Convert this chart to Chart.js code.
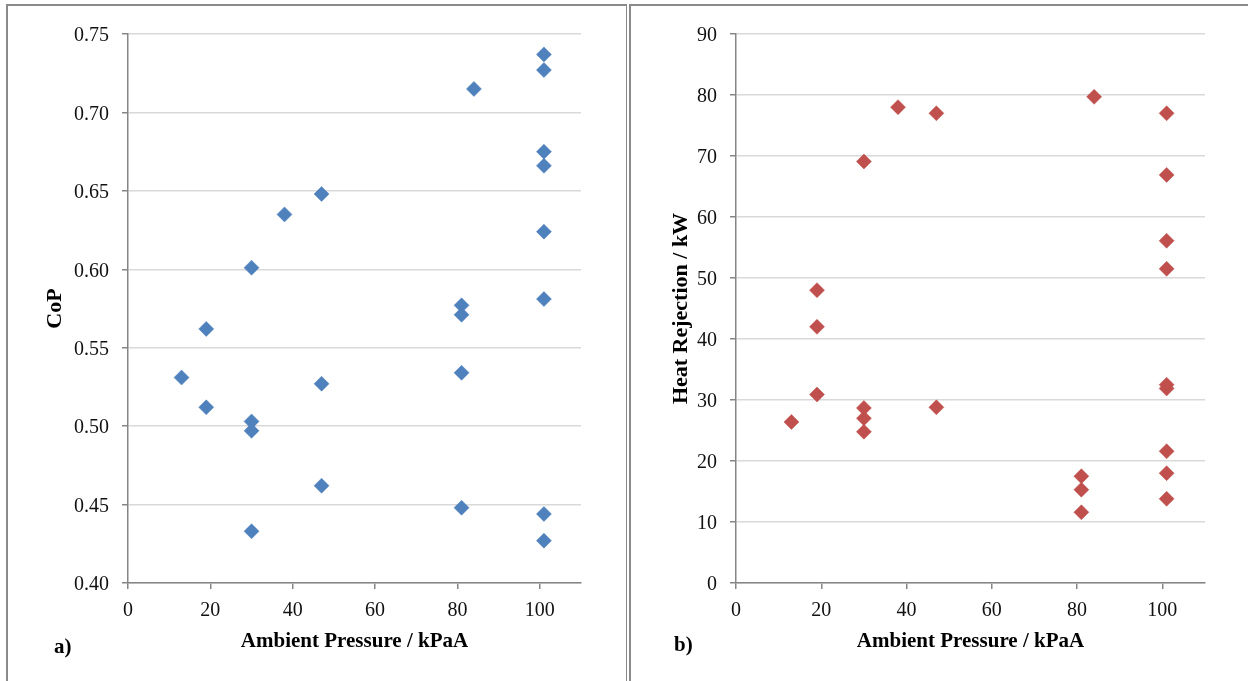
<!DOCTYPE html>
<html>
<head>
<meta charset="utf-8">
<title>CoP and Heat Rejection vs Ambient Pressure</title>
<script src="https://cdn.jsdelivr.net/npm/chart.js@4.4.0/dist/chart.umd.min.js"></script>
<style>
  html, body { margin: 0; padding: 0; background: #fff; }
  body { width: 1248px; height: 681px; position: relative; overflow: hidden; }
  .panel { position: absolute; top: 4px; height: 700px; border-top: 2px solid #8a8a8a; border-left: 2px solid #8a8a8a; }
  #panelA { left: 6px; width: 618px; border-right: 1px solid #8a8a8a; }
  #panelB { left: 629px; width: 640px; }
  canvas { position: absolute; top: 0; }
  #copChart { left: 0; }
  #heatChart { left: 631px; }
</style>
</head>
<body>
<div class="panel" id="panelA"></div>
<div class="panel" id="panelB"></div>
<canvas id="copChart" width="627" height="681"></canvas>
<canvas id="heatChart" width="617" height="681"></canvas>
<script>
// Panel a) CoP vs ambient pressure
const copPressure = [13, 19, 19, 30, 30, 30, 30, 38, 47, 47, 47, 81, 81, 81, 81, 84,
                     101, 101, 101, 101, 101, 101, 101, 101];
const copValues = [0.531, 0.562, 0.512, 0.601, 0.503, 0.497, 0.433, 0.635, 0.648, 0.527, 0.462,
                   0.577, 0.571, 0.534, 0.448, 0.715,
                   0.737, 0.727, 0.675, 0.666, 0.624, 0.581, 0.444, 0.427];

// Panel b) heat rejection vs ambient pressure
const heatPressure = [13, 19, 19, 19, 30, 30, 30, 30, 38, 47, 47, 81, 81, 81, 84,
                      101, 101, 101, 101, 101, 101, 101, 101, 101];
const heatValues = [26.4, 48.0, 42.0, 30.9, 69.1, 28.7, 27.0, 24.8, 78.0, 77.0, 28.8,
                    17.5, 15.3, 11.6, 79.7,
                    77.0, 66.9, 56.1, 51.5, 32.5, 31.9, 21.6, 18.0, 13.8];

// Tick labels
const pressureTicks = [0, 20, 40, 60, 80, 100];
const copTicks = [0.40, 0.45, 0.50, 0.55, 0.60, 0.65, 0.70, 0.75];
const heatTicks = [0, 10, 20, 30, 40, 50, 60, 70, 80, 90];

const axisColor = '#868686';
const gridColor = '#d9d9d9';
const serif = "'Liberation Serif', 'Times New Roman', serif";

Chart.defaults.font.family = serif;
Chart.defaults.color = '#111';

// Draws the "a)" / "b)" panel tag
const panelLabel = {
    id: 'panelLabel',
    afterDraw(chart, args, opts) {
        const ctx = chart.ctx;
        ctx.save();
        ctx.font = 'bold 21px ' + serif;
        ctx.fillStyle = '#000';
        ctx.textBaseline = 'alphabetic';
        ctx.fillText(opts.text, opts.x, opts.y);
        ctx.restore();
    }
};

function makeChart(canvasId, cfg) {
    const points = cfg.xs.map((x, i) => ({ x: x, y: cfg.ys[i] }));
    return new Chart(document.getElementById(canvasId), {
        type: 'scatter',
        data: {
            datasets: [{
                data: points,
                pointStyle: 'rectRot',
                pointRadius: 7.5,
                pointHoverRadius: 7.5,
                backgroundColor: cfg.color,
                borderColor: cfg.color,
                borderWidth: 0.5,
                clip: false
            }]
        },
        options: {
            responsive: false,
            animation: false,
            events: [],
            layout: { padding: { left: 0, top: 34, right: cfg.padRight, bottom: 0 } },
            plugins: {
                legend: { display: false },
                tooltip: { enabled: false },
                panelLabel: cfg.label
            },
            scales: {
                x: {
                    type: 'linear',
                    min: 0,
                    max: 110,
                    afterBuildTicks: (scale) => { scale.ticks = pressureTicks.map(v => ({ value: v })); },
                    afterFit: (scale) => { scale.height = 98; },
                    grid: { drawOnChartArea: false, drawTicks: true, tickLength: 6, tickColor: axisColor, lineWidth: 1.5 },
                    border: { color: axisColor, width: 1.5 },
                    ticks: { font: { size: 20 }, padding: 10, maxRotation: 0, color: '#111' },
                    title: {
                        display: true,
                        text: 'Ambient Pressure / kPaA',
                        font: { size: 21, weight: 'bold' },
                        color: '#000',
                        padding: { top: 0, bottom: 27 }
                    }
                },
                y: {
                    type: 'linear',
                    min: cfg.yTicks[0],
                    max: cfg.yTicks[cfg.yTicks.length - 1],
                    afterBuildTicks: (scale) => { scale.ticks = cfg.yTicks.map(v => ({ value: v })); },
                    afterFit: (scale) => { scale.width = cfg.yWidth; },
                    grid: { color: gridColor, lineWidth: 1.5, drawTicks: true, tickLength: 6, tickColor: axisColor },
                    border: { color: axisColor, width: 1.5 },
                    ticks: { font: { size: 20 }, padding: 13, labelOffset: 2, color: '#111', callback: cfg.fmt },
                    title: {
                        display: true,
                        text: cfg.yTitle,
                        font: { size: 22, weight: 'bold' },
                        color: '#000',
                        padding: { top: cfg.yTitlePad, bottom: 0 }
                    }
                }
            }
        },
        plugins: [panelLabel]
    });
}

makeChart('copChart', {
    xs: copPressure,
    ys: copValues,
    yTicks: copTicks,
    fmt: (v) => v.toFixed(2),
    yTitle: 'CoP',
    yTitlePad: 42,
    yWidth: 128,
    padRight: 46,
    color: '#4F81BD',
    label: { text: 'a)', x: 54, y: 653 }
});

makeChart('heatChart', {
    xs: heatPressure,
    ys: heatValues,
    yTicks: heatTicks,
    fmt: (v) => String(v),
    yTitle: 'Heat Rejection / kW',
    yTitlePad: 37,
    yWidth: 105,
    padRight: 43,
    color: '#C0504D',
    label: { text: 'b)', x: 43, y: 651 }
});
</script>
</body>
</html>
